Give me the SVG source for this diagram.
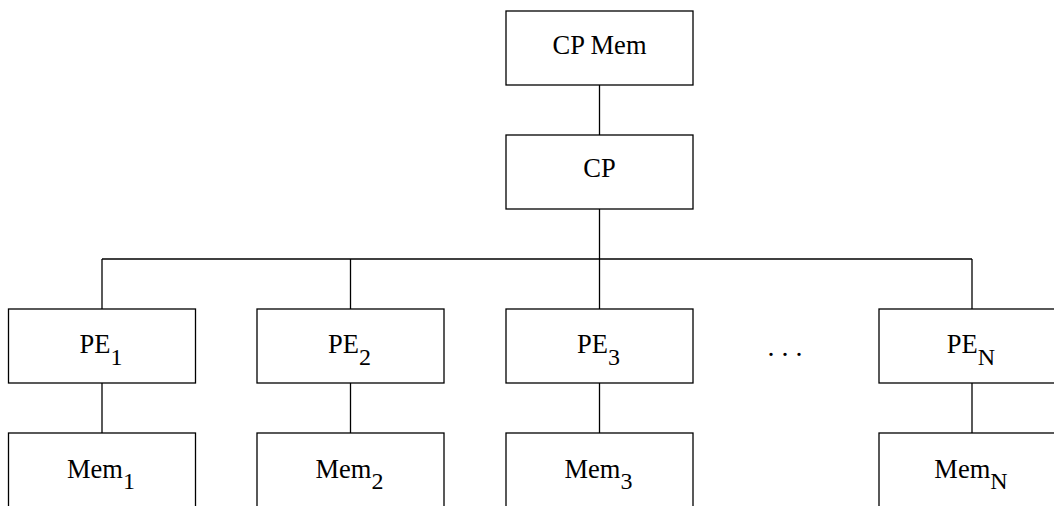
<svg xmlns="http://www.w3.org/2000/svg" width="1054" height="506" viewBox="0 0 1054 506">
<style>
rect{fill:#fff;stroke:#000;stroke-width:1.3}
line{stroke:#000;stroke-width:1.3}
text{font-family:"Liberation Serif","Times New Roman",serif;font-size:26.5px;fill:#000;text-anchor:middle}
.s{font-size:24px}
</style>
<rect x="0" y="0" width="1054" height="506" style="stroke:none"/>
<g id="connectors">
<line x1="599.5" y1="85" x2="599.5" y2="135"/>
<line x1="599.5" y1="209" x2="599.5" y2="309"/>
<line x1="102" y1="259" x2="972" y2="259"/>
<line x1="102" y1="259" x2="102" y2="309"/>
<line x1="350.5" y1="259" x2="350.5" y2="309"/>
<line x1="972" y1="259" x2="972" y2="309"/>
<line x1="102" y1="383" x2="102" y2="433"/>
<line x1="350.5" y1="383" x2="350.5" y2="433"/>
<line x1="599.5" y1="383" x2="599.5" y2="433"/>
<line x1="972" y1="383" x2="972" y2="433"/>
</g>
<g id="cpmem"><rect x="506" y="11" width="187" height="74"/><text x="599.5" y="53.5">CP Mem</text></g>
<g id="cp"><rect x="506" y="135" width="187" height="74"/><text x="599.5" y="177">CP</text></g>
<g id="pe1"><rect x="8.5" y="309" width="187" height="74"/><text x="101" y="353">PE<tspan class="s" dy="12">1</tspan></text></g>
<g id="pe2"><rect x="257" y="309" width="187" height="74"/><text x="349.5" y="353">PE<tspan class="s" dy="12">2</tspan></text></g>
<g id="pe3"><rect x="506" y="309" width="187" height="74"/><text x="598.5" y="353">PE<tspan class="s" dy="12">3</tspan></text></g>
<g id="dots"><text x="785" y="356" style="font-size:28px">. . .</text></g>
<g id="pen"><rect x="879" y="309" width="187" height="74"/><text x="971" y="353">PE<tspan class="s" dy="12">N</tspan></text></g>
<g id="mem1"><rect x="8.5" y="433" width="187" height="100"/><text x="101" y="478">Mem<tspan class="s" dy="11">1</tspan></text></g>
<g id="mem2"><rect x="257" y="433" width="187" height="100"/><text x="349.5" y="478">Mem<tspan class="s" dy="11">2</tspan></text></g>
<g id="mem3"><rect x="506" y="433" width="187" height="100"/><text x="598.5" y="478">Mem<tspan class="s" dy="11">3</tspan></text></g>
<g id="memn"><rect x="879" y="433" width="187" height="100"/><text x="971" y="478">Mem<tspan class="s" dy="11">N</tspan></text></g>
</svg>
